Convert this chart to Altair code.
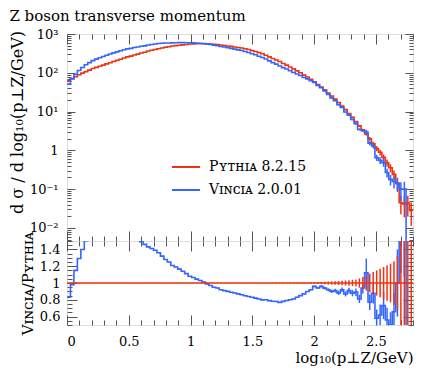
import altair as alt
import pandas as pd

# ---------------- data ----------------
SERIES = ["Pʏᴛʜɪᴀ 8.2.15", "Vɪɴᴄɪᴀ 2.0.01"]
COLORS = ["#ee3311", "#3366ff"]

bin_width = 0.028
n_bins = 100

pythia = [62, 71, 79, 89, 98, 107, 117, 129, 138, 148,
          158, 170, 182, 195, 209, 224, 240, 257, 269, 288,
          302, 324, 339, 363, 380, 398, 417, 437, 457, 468,
          490, 501, 513, 525, 537, 550, 556, 562, 562, 562,
          556, 550, 543, 531, 519, 507, 490, 479, 462, 447,
          437, 417, 398, 372, 355, 331, 309, 282, 257, 234,
          214, 195, 174, 158, 141, 126, 112, 100, 87.1, 77.6,
          67.6, 58.9, 50.1, 42.7, 36.3, 30.2, 25.1, 20.9, 17.0, 13.8,
          11.2, 8.91, 7.08, 5.50, 4.27, 3.39, 2.63, 2.00, 1.48, 1.12,
          0.891, 0.661, 0.479, 0.355, 0.240, 0.141, 0.0447, 0.0417, 0.0437, 0.0282]

vincia = [51.5, 69.6, 90.9, 115, 137, 161, 183, 206, 225, 244,
          262, 284, 304, 326, 347, 370, 391, 414, 425, 449,
          462, 483, 495, 519, 536, 553, 567, 577, 585, 585,
          592, 596, 598, 598, 597, 594, 592, 588, 579, 568,
          550, 534, 516, 499, 477, 461, 441, 426, 407, 389,
          376, 354, 334, 309, 291, 268, 247, 226, 203, 183,
          167, 150, 136, 125, 113, 102, 93.0, 85.0, 75.8, 69.8,
          62.2, 56.5, 47.1, 41.0, 34.1, 27.8, 22.6, 19.0, 15.0, 12.7,
          9.74, 8.11, 6.23, 4.90, 3.46, 3.19, 2.95, 1.54, 1.30, 0.650,
          0.552, 0.483, 0.268, 0.178, 0.158, 0.141, 0.100, 0.100, 0, 0]

pythia_relerr = [0.003] * 60 + [0.005] * 10 + [
    0.008, 0.010, 0.012, 0.013, 0.015, 0.017, 0.019, 0.021, 0.024, 0.027,
    0.030, 0.034, 0.038, 0.043, 0.055, 0.070, 0.090, 0.110, 0.130, 0.150,
    0.170, 0.190, 0.210, 0.230, 0.260, 0.320, 0.500, 0.550, 0.550, 0.600]

vincia_relerr = [0.003] * 60 + [0.006] * 10 + [
    0.009, 0.011, 0.013, 0.015, 0.017, 0.019, 0.021, 0.024, 0.027, 0.030,
    0.034, 0.038, 0.043, 0.050, 0.060, 0.070, 0.150, 0.120, 0.140, 0.180,
    0.200, 0.220, 0.260, 0.300, 0.340, 0.400, 0.500, 0.550, 0.0, 0.0]

x_label_values = [0, 0.5, 1, 1.5, 2, 2.5]
x_tick_values = [round(0.1 * i, 1) for i in range(29)]
y_label_values = [0.01, 0.1, 1, 10, 100, 1000]
y_tick_values = [m * 10.0 ** k for k in range(-3, 3) for m in range(1, 10)
                 if 0.0046 <= m * 10.0 ** k <= 1000] + [1000]
r_label_values = [0.6, 0.8, 1.0, 1.2, 1.4]
r_tick_values = [round(0.5 + 0.05 * i, 2) for i in range(21)]

TITLE = "Z boson transverse momentum"
Y_TITLE = "d σ / d log₁₀(p⊥Z/GeV)"
R_TITLE = "Vɪɴᴄɪᴀ/Pʏᴛʜɪᴀ"
X_TITLE = "log₁₀(p⊥Z/GeV)"

# ---------------- tables ----------------
lo = [round(i * bin_width, 4) for i in range(n_bins)]
hi = [round((i + 1) * bin_width, 4) for i in range(n_bins)]
mid = [round((i + 0.5) * bin_width, 4) for i in range(n_bins)]

step_rows, err_rows, rstep_rows, rerr_rows = [], [], [], []
for s, vals, errs in [(SERIES[0], pythia, pythia_relerr), (SERIES[1], vincia, vincia_relerr)]:
    for i, v in enumerate(vals):
        yp = max(v, 1e-4)
        r = v / pythia[i]
        rp = max(min(r, 3.0), 0.0)
        step_rows.append(dict(series=s, x=lo[i], y=yp, o=2 * i))
        step_rows.append(dict(series=s, x=hi[i], y=yp, o=2 * i + 1))
        rstep_rows.append(dict(series=s, x=lo[i], r=rp, o=2 * i))
        rstep_rows.append(dict(series=s, x=hi[i], r=rp, o=2 * i + 1))
        if v > 0 and errs[i] > 0:
            err_rows.append(dict(series=s, x=mid[i], y1=v * (1 - errs[i]), y2=v * (1 + errs[i])))
            rerr_rows.append(dict(series=s, x=mid[i], r1=r * (1 - errs[i]), r2=r * (1 + errs[i])))

step_df = pd.DataFrame(step_rows)
err_df = pd.DataFrame(err_rows)
rstep_df = pd.DataFrame(rstep_rows)
rerr_df = pd.DataFrame(rerr_rows)

# ---------------- style ----------------
FONT = "DejaVu Serif"
FRAME = "#555555"
W, H_TOP, H_R = 346, 207, 84

x_scale = alt.Scale(domain=[0, 2.8], nice=False, zero=False)
y_scale = alt.Scale(type="log", domain=[0.0046, 1000], nice=False)
r_scale = alt.Scale(domain=[0.5, 1.5], nice=False, zero=False)
color_scale = alt.Scale(domain=SERIES, range=COLORS)

X_MAJOR = "abs(datum.value*2 - round(datum.value*2)) < 0.001"
Y_MAJOR = "abs(log(datum.value)/LN10 - round(log(datum.value)/LN10)) < 0.001"
R_MAJOR = "abs(datum.value*5 - round(datum.value*5)) < 0.001"


def tick_axis(orient, offset, values, test, major, minor):
    return alt.Axis(orient=orient, offset=offset, values=values, labels=False,
                    domain=False, grid=False, title=None, tickColor=FRAME, tickWidth=1,
                    tickSize={"condition": {"test": test, "value": major}, "value": minor})


def label_axis(orient, values, expr, title, pad, tsize=15, **kw):
    return alt.Axis(orient=orient, values=values, ticks=False, tickSize=0, domain=False,
                    grid=False, labelExpr=expr, labelPadding=pad, title=title,
                    labelFont=FONT, labelFontSize=13, labelColor="black",
                    titleFont=FONT, titleFontSize=tsize, titleFontWeight="normal",
                    titleColor="black", **kw)


log_expr = ("datum.value >= 999 ? '10³' : datum.value >= 99 ? '10²' : datum.value >= 9 ? '10¹' : "
            "datum.value >= 0.9 ? '1' : datum.value >= 0.09 ? '10⁻¹' : '10⁻²'")

legend = alt.Legend(orient="none", legendX=104, legendY=118, title=None,
                    symbolType="stroke", symbolSize=784, symbolStrokeWidth=2,
                    labelFont=FONT, labelFontSize=14, labelColor="black",
                    labelOffset=8, rowPadding=1, padding=0)

# ---------------- top panel ----------------
top_lines = alt.Chart(step_df).mark_line(strokeWidth=1.6, clip=True).encode(
    x=alt.X("x:Q", scale=x_scale, axis=tick_axis("top", -H_TOP, x_tick_values, X_MAJOR, 10, 5)),
    y=alt.Y("y:Q", scale=y_scale,
            axis=label_axis("left", y_label_values, log_expr, Y_TITLE, 9, tsize=16, titleY=88)),
    color=alt.Color("series:N", scale=color_scale, legend=legend),
    order="o:Q",
)

top_err = alt.Chart(err_df).mark_rule(strokeWidth=1.5, clip=True).encode(
    x=alt.X("x:Q", scale=x_scale, axis=tick_axis("bottom", -H_TOP, x_tick_values, X_MAJOR, 10, 5)),
    y=alt.Y("y1:Q", scale=y_scale, axis=tick_axis("right", -W, y_tick_values, Y_MAJOR, 8, 4)),
    y2="y2:Q",
    color=alt.Color("series:N", scale=color_scale, legend=legend),
)

top_dummy = alt.Chart(err_df).mark_rule(strokeOpacity=0).encode(
    x=alt.X("x:Q", scale=x_scale, axis=None),
    y=alt.Y("y1:Q", scale=y_scale, axis=tick_axis("left", -W, y_tick_values, Y_MAJOR, 8, 4)),
)

top = alt.layer(top_err, top_lines, top_dummy).resolve_axis(
    x="independent", y="independent"
).properties(
    width=W, height=H_TOP,
    title=alt.TitleParams(TITLE, anchor="start", font=FONT, fontSize=15,
                          fontWeight="normal", color="black", offset=4),
)

# ---------------- ratio panel ----------------
blue_ratio = alt.Chart(rstep_df).transform_filter(
    alt.datum.series == SERIES[1]
).mark_line(strokeWidth=1.6, clip=True, color=COLORS[1]).encode(
    x=alt.X("x:Q", scale=x_scale,
            axis=label_axis("bottom", x_label_values, "format(datum.value, '~g')", X_TITLE, 10,
                            titleAnchor="end", titlePadding=2)),
    y=alt.Y("r:Q", scale=r_scale,
            axis=label_axis("left", r_label_values,
                            "datum.value == 1 ? '1' : format(datum.value, '.1f')", R_TITLE, 7)),
    order="o:Q",
)

blue_rerr = alt.Chart(rerr_df).transform_filter(
    alt.datum.series == SERIES[1]
).mark_rule(strokeWidth=1.5, clip=True, color=COLORS[1]).encode(
    x=alt.X("x:Q", scale=x_scale, axis=None),
    y=alt.Y("r1:Q", scale=r_scale, axis=None),
    y2="r2:Q",
)

red_ratio = alt.Chart(rstep_df).transform_filter(
    alt.datum.series == SERIES[0]
).mark_line(strokeWidth=1.6, clip=True, color=COLORS[0]).encode(
    x=alt.X("x:Q", scale=x_scale, axis=tick_axis("top", -H_R, x_tick_values, X_MAJOR, 10, 5)),
    y=alt.Y("r:Q", scale=r_scale, axis=tick_axis("right", -W, r_tick_values, R_MAJOR, 10, 5)),
    order="o:Q",
)

red_rerr = alt.Chart(rerr_df).transform_filter(
    alt.datum.series == SERIES[0]
).mark_rule(strokeWidth=1.5, clip=True, color=COLORS[0]).encode(
    x=alt.X("x:Q", scale=x_scale, axis=tick_axis("bottom", -H_R, x_tick_values, X_MAJOR, 10, 5)),
    y=alt.Y("r1:Q", scale=r_scale, axis=tick_axis("left", -W, r_tick_values, R_MAJOR, 10, 5)),
    y2="r2:Q",
)

ratio = alt.layer(blue_ratio, blue_rerr, red_rerr, red_ratio).resolve_axis(
    x="independent", y="independent"
).properties(width=W, height=H_R)

chart = alt.vconcat(top, ratio, spacing=0, bounds="flush").resolve_legend(
    color="independent"
).properties(
    padding=0
).configure_view(stroke=FRAME, strokeWidth=1).configure(
    background="white", font=FONT
).configure_title(font=FONT)

chart.save("out.html", embed_options={"renderer": "svg", "actions": False})
